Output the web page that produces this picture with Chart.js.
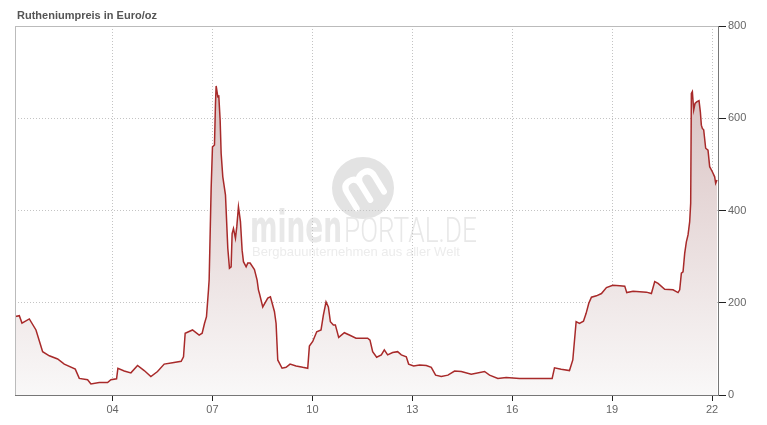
<!DOCTYPE html>
<html>
<head>
<meta charset="utf-8">
<script src="https://cdn.jsdelivr.net/npm/chart.js@4/dist/chart.umd.min.js"></script>
<style>
html, body { margin: 0; padding: 0; background: #fff; }
#wrap { width: 767px; height: 425px; position: relative; }
</style>
</head>
<body>
<div id="wrap"><canvas id="chart"></canvas></div>
<script>
// --- data ---
const chartTitle = 'Rutheniumpreis in Euro/oz';
const tickYears = [2004, 2007, 2010, 2013, 2016, 2019, 2022];
const yTicks = [0, 200, 400, 600, 800];

const dates = [
  2001.08, 2001.20, 2001.28, 2001.50, 2001.70, 2001.90, 2002.10, 2002.35, 2002.55, 2002.88,
  2003.00, 2003.25, 2003.35, 2003.60, 2003.85, 2003.95, 2004.12, 2004.16, 2004.35, 2004.55,
  2004.75, 2004.95, 2005.15, 2005.35, 2005.55, 2005.80, 2006.06, 2006.13, 2006.18, 2006.40,
  2006.60, 2006.69, 2006.76, 2006.82, 2006.88, 2006.90, 2006.96, 2007.00, 2007.06, 2007.09,
  2007.11, 2007.16, 2007.19, 2007.23, 2007.26, 2007.31, 2007.39, 2007.46, 2007.51, 2007.56,
  2007.59, 2007.63, 2007.69, 2007.73, 2007.78, 2007.84, 2007.89, 2007.93, 2008.01, 2008.06,
  2008.13, 2008.26, 2008.34, 2008.38, 2008.41, 2008.51, 2008.66, 2008.74, 2008.86, 2008.91,
  2008.96, 2009.09, 2009.21, 2009.33, 2009.51, 2009.71, 2009.86, 2009.91, 2010.01, 2010.13,
  2010.26, 2010.33, 2010.41, 2010.48, 2010.54, 2010.63, 2010.69, 2010.79, 2010.96, 2011.11,
  2011.31, 2011.51, 2011.66, 2011.73, 2011.81, 2011.93, 2012.07, 2012.16, 2012.26, 2012.41,
  2012.56, 2012.67, 2012.82, 2012.89, 2013.04, 2013.22, 2013.42, 2013.57, 2013.70, 2013.87,
  2014.07, 2014.27, 2014.47, 2014.77, 2015.17, 2015.32, 2015.57, 2015.82, 2016.22, 2016.82,
  2017.20, 2017.27, 2017.47, 2017.72, 2017.82, 2017.92, 2018.02, 2018.14, 2018.22, 2018.30,
  2018.38, 2018.53, 2018.68, 2018.83, 2019.02, 2019.23, 2019.38, 2019.44, 2019.63, 2019.83,
  2020.03, 2020.18, 2020.28, 2020.38, 2020.58, 2020.83, 2020.98, 2021.03, 2021.08, 2021.13,
  2021.18, 2021.23, 2021.28, 2021.33, 2021.36, 2021.38, 2021.41, 2021.45, 2021.49, 2021.55,
  2021.61, 2021.65, 2021.68, 2021.71, 2021.75, 2021.81, 2021.88, 2021.93, 2022.01, 2022.08,
  2022.11, 2022.15
];

const prices = [
  170, 172, 156, 165, 141, 94, 85, 78, 67, 56,
  36, 33, 24, 27, 27, 33, 35, 58, 52, 48,
  64, 53, 40, 51, 67, 70, 73, 83, 134, 141,
  130, 134, 155, 170, 228, 250, 448, 538, 542, 632,
  670, 647, 648, 596, 524, 473, 434, 318, 275, 278,
  350, 361, 340, 365, 408, 376, 314, 289, 278, 286,
  286, 272, 249, 228, 220, 191, 210, 213, 181, 155,
  76, 58, 60, 67, 63, 60, 58, 106, 116, 137,
  141, 173, 202, 191, 159, 152, 152, 125, 135, 130,
  123, 123, 123, 119, 94, 82, 87, 98, 87, 92,
  94, 87, 83, 67, 63, 65, 64, 60, 43, 40,
  43, 52, 51, 45, 51, 43, 36, 38, 36, 36,
  36, 59, 56, 53, 76, 159, 155, 160, 177, 199,
  212, 215, 220, 233, 238, 237, 236, 222, 225, 224,
  223, 220, 246, 242, 229, 228, 222, 228, 264, 267,
  307, 332, 347, 376, 416, 654, 658, 618, 632, 636,
  638, 614, 585, 578, 575, 535, 531, 495, 484, 473,
  459, 466
];

const points = dates.map((d, i) => ({ x: d, y: prices[i] }));

// watermark + title + light frame
const decorPlugin = {
  id: 'decor',
  beforeDraw(chart) {
    const ctx = chart.ctx;
    ctx.save();
    // logo circle
    ctx.fillStyle = '#e3e3e3';
    ctx.beginPath();
    ctx.arc(363, 188, 31, 0, Math.PI * 2);
    ctx.fill();
    ctx.translate(363, 188);
    ctx.rotate(-0.55);
    ctx.strokeStyle = '#fff';
    ctx.lineWidth = 6;
    ctx.lineCap = 'round';
    ctx.lineJoin = 'round';
    ctx.beginPath();
    ctx.moveTo(-16, 14);
    ctx.lineTo(-16, -4);
    ctx.quadraticCurveTo(-16, -13, -8, -13);
    ctx.quadraticCurveTo(0, -13, 0, -4);
    ctx.lineTo(0, 14);
    ctx.moveTo(0, -4);
    ctx.quadraticCurveTo(0, -13, 8, -13);
    ctx.quadraticCurveTo(16, -13, 16, -4);
    ctx.lineTo(16, 14);
    ctx.stroke();
    ctx.restore();

    ctx.save();
    ctx.fillStyle = '#e8e8e8';
    ctx.textBaseline = 'alphabetic';
    ctx.font = 'bold 44px "DejaVu Sans"';
    ctx.fillText('minen', 250, 242, 92);
    ctx.font = '300 35px Roboto';
    ctx.fillText('PORTAL.DE', 344, 242, 133);
    ctx.fillStyle = '#ececec';
    ctx.font = '13px "Liberation Sans", Arial';
    ctx.fillText('Bergbauunternehmen aus aller Welt', 252, 256, 224);

    ctx.fillStyle = '#555';
    ctx.font = 'bold 11px "Liberation Sans", Arial';
    ctx.fillText(chartTitle, 17, 19);
    ctx.restore();
  },
  afterDraw(chart) {
    const { ctx, chartArea: a } = chart;
    ctx.save();
    ctx.strokeStyle = '#bbb';
    ctx.lineWidth = 1;
    ctx.beginPath();
    ctx.moveTo(a.left + 0.5, a.bottom);
    ctx.lineTo(a.left + 0.5, a.top + 0.5);
    ctx.lineTo(a.right, a.top + 0.5);
    ctx.stroke();
    ctx.restore();
  }
};

const chartCtx = document.getElementById('chart').getContext('2d');
const priceChart = new Chart(chartCtx, {
  type: 'line',
  data: {
    datasets: [{
      label: chartTitle,
      data: points,
      borderColor: '#a82a2a',
      borderWidth: 1.5,
      pointRadius: 0,
      tension: 0,
      fill: 'origin',
      backgroundColor: (c) => {
        const area = c.chart.chartArea;
        if (!area) return 'rgba(230,215,215,1)';
        const g = c.chart.ctx.createLinearGradient(0, area.top, 0, area.bottom);
        g.addColorStop(0, 'rgb(212,185,185)');
        g.addColorStop(1, 'rgb(249,248,248)');
        return g;
      }
    }]
  },
  options: {
    responsive: true,
    maintainAspectRatio: false,
    animation: false,
    devicePixelRatio: 1,
    layout: { padding: { top: 26, left: 15, right: 0, bottom: 0 } },
    plugins: { legend: { display: false }, tooltip: { enabled: false }, title: { display: false } },
    scales: {
      x: {
        type: 'linear',
        min: 2001.07,
        max: 2022.18,
        afterBuildTicks: (s) => { s.ticks = tickYears.map(v => ({ value: v })); },
        afterFit: (s) => { s.height = 30; },
        ticks: {
          color: '#666',
          font: { family: '"Liberation Sans", Arial', size: 11 },
          padding: 2,
          maxRotation: 0,
          autoSkip: false,
          callback: (v) => String(v).slice(2)
        },
        grid: { color: '#c4c4c4', tickColor: '#222', tickLength: 6, tickBorderDash: [] },
        border: { color: '#777', width: 1, dash: [1, 2] }
      },
      y: {
        position: 'right',
        min: 0,
        max: 800,
        afterBuildTicks: (s) => { s.ticks = yTicks.map(v => ({ value: v })); },
        afterFit: (s) => { s.width = 49; },
        ticks: {
          color: '#666',
          font: { family: '"Liberation Sans", Arial', size: 11 },
          padding: 2
        },
        grid: { color: '#c4c4c4', tickColor: '#222', tickLength: 8, tickBorderDash: [] },
        border: { color: '#777', width: 1, dash: [1, 2] }
      }
    }
  },
  plugins: [decorPlugin]
});
</script>
</body>
</html>
